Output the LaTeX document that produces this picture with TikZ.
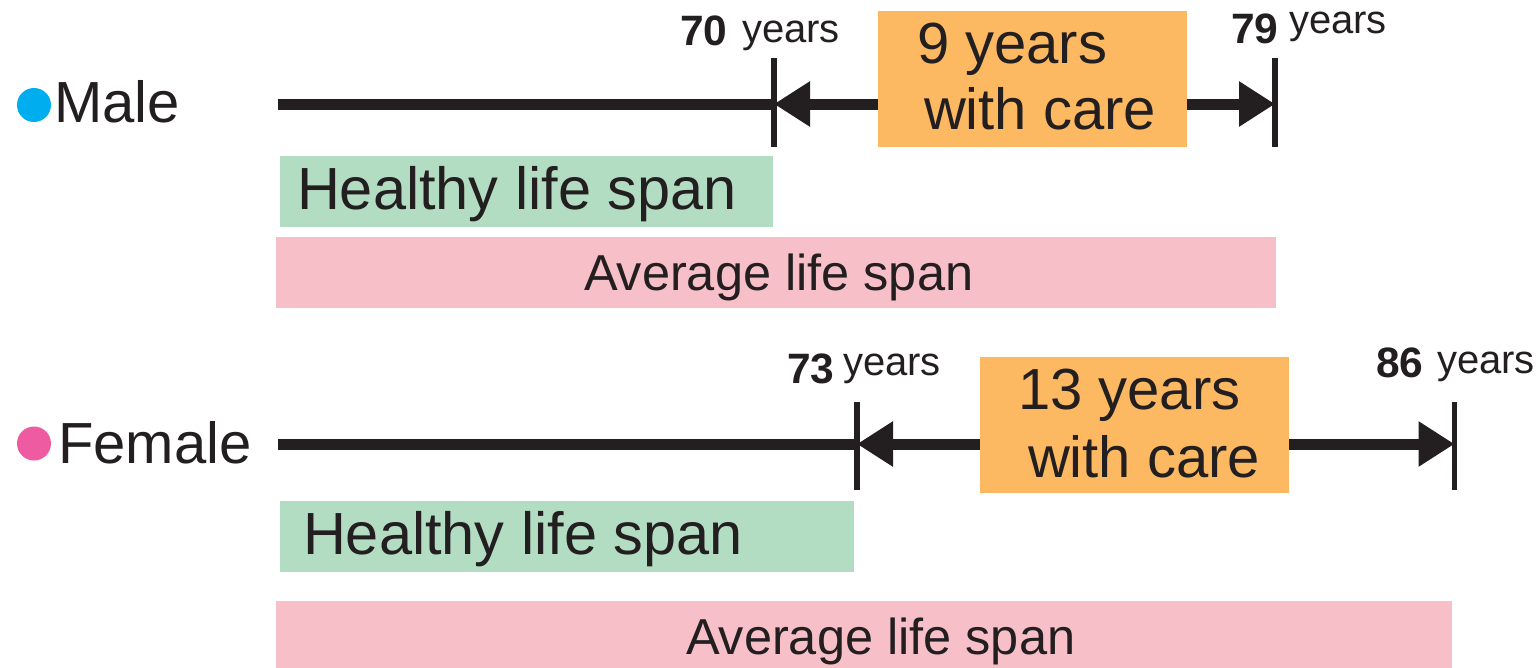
\documentclass[tikz,border=0pt]{standalone}
\usepackage{fontspec}
\setmainfont{Liberation Sans}
\usetikzlibrary{arrows.meta}
\definecolor{ink}{HTML}{231F20}
\definecolor{malec}{HTML}{00AEEF}
\definecolor{femalec}{HTML}{EF5BA1}
\definecolor{carec}{HTML}{FCB962}
\definecolor{healthc}{HTML}{B3DDC2}
\definecolor{avgc}{HTML}{F7BFC7}
\begin{document}
\begin{tikzpicture}[x=1pt,y=-1pt,
  every node/.style={inner sep=0pt, outer sep=0pt, text=ink},
  bigtxt/.style={font=\fontsize{58}{66}\selectfont, anchor=base west},
  healthtxt/.style={font=\fontsize{59.5}{66}\selectfont, anchor=base west},
  avgtxt/.style={font=\fontsize{50.5}{60}\selectfont, anchor=base west},
  yeartxt/.style={font=\fontsize{40}{48}\selectfont, anchor=base west},
  numtxt/.style={font=\fontsize{42.5}{48}\selectfont\bfseries, anchor=base west},
  dotnode/.style={circle, minimum size=34pt},
  carebox/.style={fill=carec, minimum width=309pt, minimum height=136pt},
  healthbox/.style={fill=healthc, minimum height=71pt},
  avgbox/.style={fill=avgc, minimum height=71pt},
  axisline/.style={draw=ink, line width=11pt},
  tickline/.style={draw=ink, line width=5.5pt},
  arr/.style={draw=ink, line width=11pt, -{Triangle[length=36pt,width=43pt]}}
]
\useasboundingbox (0,0) rectangle (1540,667);

% ---------- Male ----------
\node[dotnode, fill=malec] (mdot) at (34,105) {};
\node[bigtxt] (mlab) at (54,122) {Male};
\coordinate (m0) at (278,104);
\coordinate (mt1) at (774,104);
\coordinate (mt2) at (1275,104);
\draw[axisline] (m0) -- (mt1);
\draw[tickline] (774,58) -- (774,147);
\draw[tickline] (1275,58) -- (1275,147);
\node[carebox] (care1) at (1032.5,79) {};
\node[bigtxt] (care1a) at (917,63) {9 years};
\node[bigtxt] (care1b) at (924,129) {with care};
\draw[arr] (care1.west |- mt1) -- (mt1);
\draw[arr] (care1.east |- mt2) -- (mt2);
\node[numtxt] (m70) at (680,45) {70};
\node[yeartxt] (m70y) at (742,42) {years};
\node[numtxt] (m79) at (1231,43) {79};
\node[yeartxt] (m79y) at (1289,33) {years};
\node[healthbox, minimum width=493pt] (h1) at (526.5,191.5) {};
\node[healthtxt] (h1t) at (297,209) {Healthy life span};
\node[avgbox, minimum width=1000pt] (a1) at (776,272.5) {};
\node[avgtxt] (a1t) at (584,290) {Average life span};

% ---------- Female ----------
\node[dotnode, fill=femalec] (fdot) at (34,443.5) {};
\node[bigtxt] (flab) at (58,463) {Female};
\coordinate (f0) at (278,444);
\coordinate (ft1) at (857,444);
\coordinate (ft2) at (1454.5,444);
\draw[axisline] (f0) -- (ft1);
\draw[tickline] (857,402) -- (857,490);
\draw[tickline] (1454.5,402) -- (1454.5,490);
\node[carebox] (care2) at (1134.5,425) {};
\node[bigtxt] (care2a) at (1018,409) {13 years};
\node[bigtxt] (care2b) at (1028,477) {with care};
\draw[arr] (care2.west |- ft1) -- (ft1);
\draw[arr] (care2.east |- ft2) -- (ft2);
\node[numtxt] (f73) at (787,383) {73};
\node[yeartxt] (f73y) at (843,375) {years};
\node[numtxt] (f86) at (1376,377) {86};
\node[yeartxt] (f86y) at (1437,373) {years};
\node[healthbox, minimum width=574pt] (h2) at (567,536.5) {};
\node[healthtxt] (h2t) at (303,554) {Healthy life span};
\node[avgbox, minimum width=1176pt] (a2) at (864,636.5) {};
\node[avgtxt] (a2t) at (686,654) {Average life span};
\end{tikzpicture}
\end{document}
